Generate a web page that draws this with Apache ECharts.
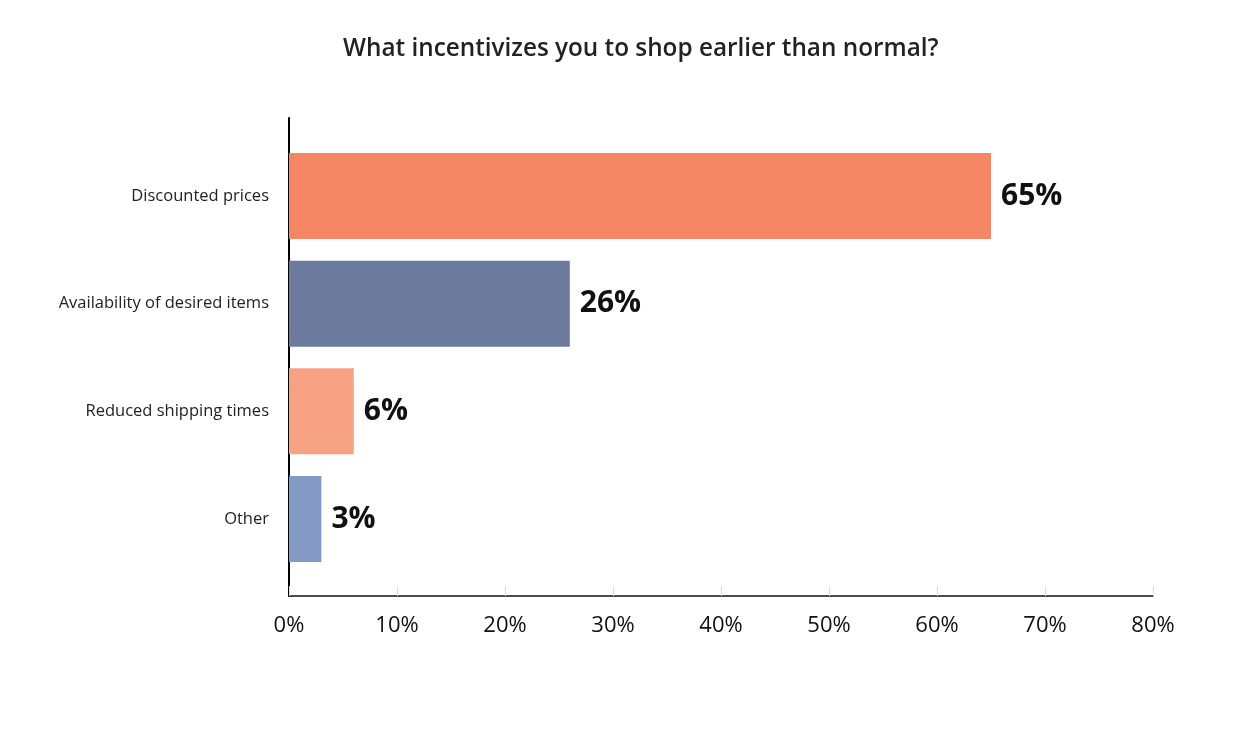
<!DOCTYPE html>
<html>
<head>
<meta charset="utf-8">
<script src="https://cdn.jsdelivr.net/npm/echarts@6/dist/echarts.min.js"></script>
<style>html,body{margin:0;padding:0;background:#fff}#c{width:1243px;height:729px}</style>
</head>
<body>
<div id="c"></div>
<script>
const categories = ['Discounted prices', 'Availability of desired items', 'Reduced shipping times', 'Other'];
const values = [65, 26, 6, 3];
const barColors = ['#F58665', '#6C7B9D', '#F7A383', '#8399C6'];
const xTicks = [0, 10, 20, 30, 40, 50, 60, 70, 80];

const FONT = '"Open Sans", Lato, sans-serif';
const chart = echarts.init(document.getElementById('c'));
chart.setOption({
  backgroundColor: '#ffffff',
  animation: false,
  title: {
    text: 'What incentivizes you to shop earlier than normal?',
    left: 338, top: 32,
    textStyle: { fontFamily: FONT, fontWeight: 600, fontSize: 24.3, color: '#222' }
  },
  grid: [
    { left: 289, right: 90, top: 118, bottom: 133 },
    { left: 289, right: 90, top: 142.2, bottom: 156.2 }
  ],
  xAxis: [
    {
      gridIndex: 0, type: 'value', min: xTicks[0], max: xTicks[xTicks.length - 1], interval: 10,
      axisLine: { show: true, lineStyle: { color: '#111', width: 1.5 } },
      axisTick: { show: true, inside: true, length: 10, lineStyle: { color: '#ddd', width: 1 } },
      splitLine: { show: false },
      axisLabel: { formatter: '{value}%', margin: 19, fontFamily: FONT, fontSize: 22, color: '#111' }
    },
    {
      gridIndex: 1, type: 'value', min: xTicks[0], max: xTicks[xTicks.length - 1],
      show: false
    }
  ],
  yAxis: [
    {
      gridIndex: 0, type: 'value', min: 0, max: 1,
      axisLine: { show: true, lineStyle: { color: '#000', width: 2 } },
      axisTick: { show: false }, axisLabel: { show: false }, splitLine: { show: false }
    },
    {
      gridIndex: 1, type: 'category', data: categories, inverse: true,
      axisLine: { show: false }, axisTick: { show: false },
      axisLabel: { margin: 20, fontFamily: FONT, fontSize: 16.5, color: '#222' }
    }
  ],
  series: [{
    type: 'bar', xAxisIndex: 1, yAxisIndex: 1,
    data: values.map((v, i) => ({ value: v, itemStyle: { color: barColors[i] } })),
    barWidth: 86,
    label: {
      show: true, position: 'right', distance: 10, formatter: '{c}%',
      fontFamily: FONT, fontWeight: 'bold', fontSize: 30, color: '#111'
    }
  }]
});
</script>
</body>
</html>
